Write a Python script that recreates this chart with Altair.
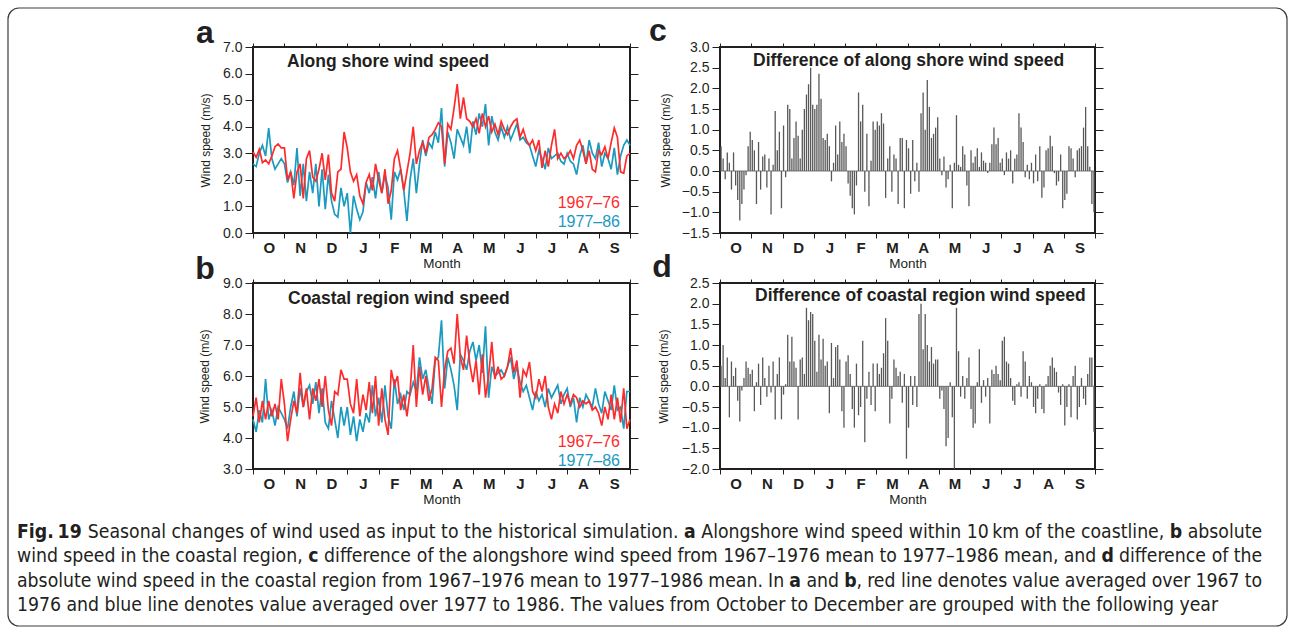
import json
import altair as alt
import pandas as pd

# ---------------- data ----------------
MONTHS = ["O", "N", "D", "J", "F", "M", "A", "M", "J", "J", "A", "S"]
SERIES_NAMES = ["1967\u201376", "1977\u201386"]
PANEL_LETTERS = ["a", "b", "c", "d"]
PANEL_TITLES = [
    "Along shore wind speed",
    "Coastal region wind speed",
    "Difference of along shore wind speed",
    "Difference of coastal region wind speed",
]
Y_TITLE = "Wind speed (m/s)"
X_TITLE = "Month"
Y_TICKS_A = [0, 1, 2, 3, 4, 5, 6, 7]
Y_TICKS_B = [3, 4, 5, 6, 7, 8, 9]
Y_TICKS_C = [-1.5, -1.0, -0.5, 0.0, 0.5, 1.0, 1.5, 2.0, 2.5, 3.0]
Y_TICKS_D = [-2.0, -1.5, -1.0, -0.5, 0.0, 0.5, 1.0, 1.5, 2.0, 2.5]

# panel a: along shore wind speed (Oct .. Sep), 10 readings per month + end
A_RED = [
    3.05, 2.85, 3.15, 2.65, 2.75, 2.6, 2.9, 3.25, 3.35, 3.2,
    3.2, 2.0, 2.3, 1.3, 2.3, 2.6, 1.3, 2.8, 3.1, 2.1,
    1.95, 2.4, 3.0, 2.0, 2.95, 1.5, 1.2, 2.3, 2.4, 3.8,
    3.2, 2.3, 1.95, 2.2, 1.4, 1.1, 1.9, 2.2, 1.6, 2.6,
    2.0, 1.5, 2.4, 1.1, 1.6, 2.8, 3.1, 2.4, 1.6, 2.3,
    3.0, 4.0, 2.6, 3.1, 3.4, 3.0, 3.6, 3.7, 3.9, 4.15,
    4.0, 2.6, 4.1, 3.9, 4.7, 5.6, 4.3, 5.1, 4.3, 4.2,
    4.0, 4.3, 3.75, 4.5, 4.0, 4.4, 3.8, 4.1, 3.7, 4.2,
    3.9, 3.7, 4.0, 4.2, 4.3, 3.6, 3.9, 3.5, 3.3, 3.5,
    3.1, 3.5, 2.45, 3.1, 2.5, 3.3, 3.9, 2.8, 3.0, 2.8,
    2.9, 3.1, 2.8, 3.3, 3.5, 3.1, 2.6, 3.1, 2.4, 2.3,
    3.1, 2.95, 3.25, 2.8, 3.4, 3.95, 3.6, 2.3, 2.25, 2.9,
    3.0,
]
A_BLUE = [
    2.6, 2.5, 3.0, 3.3, 2.9, 3.95, 2.8, 2.4, 2.6, 2.8,
    2.6, 1.9, 2.3, 1.8, 3.2, 1.4, 2.6, 1.2, 2.3, 1.5,
    2.6, 1.0, 2.4, 0.9, 2.2, 1.2, 0.7, 0.6, 1.7, 1.0,
    1.5, 0.0, 1.4, 0.9, 0.5, 0.8, 1.9, 1.5, 2.1, 1.3,
    2.3, 1.5, 2.2, 1.7, 0.5, 2.3, 2.0, 2.4, 1.6, 0.45,
    2.0, 2.8, 1.5, 2.6, 3.5, 2.9, 3.4, 3.2, 3.8, 3.4,
    4.7, 2.5, 3.8, 3.4, 2.8, 3.9, 3.6, 3.3, 4.0, 3.0,
    4.2, 3.7, 4.5, 4.0, 4.85, 3.3, 4.4, 3.8, 3.5, 4.0,
    3.6, 4.0, 3.5, 3.8, 4.1, 3.5, 3.6, 3.4, 3.3, 2.9,
    2.5, 3.1, 2.8, 2.4, 3.2, 2.8, 2.9, 3.0, 2.7, 2.6,
    3.0, 2.7, 2.6, 2.2, 2.9, 3.3, 2.6, 3.5, 3.0, 2.8,
    3.4, 2.5, 3.0, 2.8, 2.4, 3.2, 2.2, 2.9, 3.3, 3.5,
    3.3,
]
# panel b: coastal region wind speed
B_RED = [
    4.7, 5.3, 4.5, 5.2, 4.6, 5.2, 4.7, 5.1, 4.6, 5.9,
    5.1, 3.9, 4.6, 5.2, 4.8, 6.1, 5.0, 5.6, 4.6, 5.6,
    5.2, 5.9, 5.0, 6.0, 4.9, 4.4, 5.5, 5.4, 6.2, 5.9,
    5.9, 5.1, 4.8, 5.9, 4.7, 5.4, 4.9, 5.8, 4.8, 6.0,
    4.4, 5.6, 4.6, 4.1, 6.2, 5.7, 6.0, 4.9, 5.4, 4.7,
    5.5, 7.0, 5.0, 6.3, 5.4, 6.0, 5.2, 5.6, 6.6, 6.5,
    5.0, 6.2, 6.8, 6.9, 6.4, 8.0, 6.6, 6.2, 7.3, 6.4,
    5.8, 6.5, 5.4, 6.7, 5.3, 6.0, 7.1, 5.9, 6.3, 5.9,
    6.0, 6.3, 6.9, 6.1, 6.5, 5.3, 6.2, 6.0, 6.45, 5.5,
    5.3, 5.9, 5.5, 6.0, 5.0, 4.6, 5.1, 4.8, 5.5, 5.1,
    5.4, 5.1, 5.4, 5.3, 5.0, 5.2, 5.1, 5.2, 4.9, 5.0,
    4.8, 4.4, 5.0, 4.6, 5.4, 4.6, 5.3, 4.5, 5.6, 4.3,
    4.6,
]
B_BLUE = [
    4.6, 4.2, 4.9, 4.5, 5.9, 4.6, 4.9, 4.4, 5.0, 4.8,
    4.6, 4.3, 5.0, 5.5, 4.7, 5.6, 5.0, 5.5, 5.7, 5.1,
    5.8, 4.8, 5.6, 4.5, 4.3, 5.2, 4.6, 4.0, 5.0, 4.4,
    5.0, 4.1, 4.7, 3.9, 4.6, 4.2, 4.8, 4.5, 5.7, 4.7,
    5.3, 4.5, 5.7, 4.7, 4.3, 5.9, 5.1, 5.4, 4.9, 5.5,
    5.4, 5.8, 5.5, 6.6, 5.9, 6.2, 5.6, 5.1, 6.5, 6.6,
    7.8, 5.6, 6.6, 6.2, 5.7, 4.9, 6.7, 6.5, 6.2, 6.8,
    7.1, 6.5, 7.0, 6.1, 7.6, 5.3, 6.3, 6.0, 6.1, 6.2,
    6.0, 6.3, 6.6, 5.9, 6.3, 5.8, 5.5, 5.7, 5.3, 4.9,
    5.5, 5.2, 5.4, 5.0, 5.6, 5.3, 5.5, 5.7, 5.1, 5.4,
    5.6, 5.0, 5.3, 4.5, 5.3, 5.0, 5.4, 5.2, 5.0, 5.6,
    5.1, 4.8, 5.5, 5.2, 4.9, 5.7, 4.9, 5.0, 4.3, 5.5,
    5.5,
]
# panel c / d: differences, 15 readings per month
C_DIFF = [
    0.6, 0.3, -0.2, 0.45, 0.2, -0.45, 0.45, -0.35, -0.7, -1.2, -0.8, -0.45, -0.1, 0.6, 0.95,
    0.75, 0.5, -0.8, 0.7, -0.45, 0.35, 0.4, -0.4, 0.3, -1.05, 0.15, 1.45, 0.5, 0.95, -0.9,
    1.1, -0.15, 1.6, 1.5, 0.3, 0.8, 1.2, 0.85, 0.3, 1.0, 1.5, 1.85, 2.1, 2.5, 1.6,
    1.5, 1.6, 2.35, 1.75, 0.8, 0.75, 0.9, 0.6, -0.25, 0.2, 1.1, 0.4, 1.2, 0.7, 0.9,
    0.6, -0.3, -0.6, -0.9, -1.05, -0.35, 1.9, 1.2, 1.6, -0.5, 0.9, -0.85, 0.25, 1.2, 1.0,
    1.2, 1.1, 1.4, 1.15, -0.65, 0.3, 0.6, -0.5, 0.4, 0.3, -0.8, 0.8, 0.8, -0.9, 0.75,
    0.55, -0.55, 0.75, -0.25, 0.2, -0.5, 1.4, 1.9, 1.0, 2.2, 1.55, 0.8, 0.9, 1.05, 1.3,
    0.3, -0.1, 0.35, -0.4, -0.2, 0.15, -0.9, 0.2, 1.35, 0.15, 0.1, 0.6, 0.4, -0.35, -0.85,
    0.5, 0.2, 0.35, 0.55, 0.1, 0.45, 0.25, 0.2, -0.05, 0.2, 0.65, 1.05, 0.65, 0.8, 0.2,
    0.3, -0.1, 0.45, 0.3, 0.5, -0.3, 0.3, 0.4, 1.4, 1.05, 0.7, -0.15, 0.15, -0.2, 0.2,
    -0.3, 0.4, -0.25, 0.6, -0.65, -0.4, 0.5, 0.55, 0.85, 0.6, -0.05, -0.35, -0.25, 0.4, -0.9,
    -0.7, -0.55, 0.6, 0.55, 0.3, -0.15, 0.5, 0.55, 0.6, 1.05, 1.55, 0.6, 0.1, -0.8, -1.0,
]
D_DIFF = [
    0.5, 1.0, 0.2, 0.7, -0.75, 0.6, 0.25, 0.45, -0.35, -0.85, -0.1, 0.2, 0.6, 0.45, 0.3,
    0.4, -0.6, 0.1, 0.55, -0.45, 0.7, 0.2, -0.25, 0.5, -0.15, 0.6, -0.8, 0.3, 0.7, -0.8,
    -0.2, 0.05, 1.25, 0.6, 1.2, 0.6, 0.45, -0.8, 0.65, 0.7, 0.3, 1.9, 1.6, 1.8, 1.75,
    1.1, 0.35, 1.25, 0.65, 1.15, 0.5, 0.6, -0.65, 1.05, 0.2, 0.95, 1.0, 0.65, -0.6, -1.0,
    0.6, 0.75, 0.3, -0.55, -1.0, 0.55, -0.7, -0.5, 1.1, -1.35, -0.3, 0.35, -0.45, 0.55, -0.6,
    0.55, 0.3, 0.45, 0.8, 1.65, 1.1, -0.9, -0.3, 0.65, 0.45, 0.25, 0.35, -0.4, 0.3, -1.75,
    -1.0, 0.25, -0.45, 0.25, -0.5, 1.75, 2.0, 0.9, 1.75, 1.0, 0.6, 0.95, 0.55, 0.65, 0.65,
    -0.3, -0.1, -0.55, -1.45, -1.25, 0.1, -0.75, -2.0, 1.9, 0.85, -0.25, 0.25, -0.3, 0.2, 0.7,
    -0.55, -1.0, -0.9, 0.1, 0.9, -0.4, 0.15, -0.25, 0.2, -0.9, 0.4, 0.3, 0.5, 0.3, 0.15,
    1.1, 1.2, 0.6, 0.55, 0.2, -0.35, -0.45, 0.05, 0.1, -0.25, 0.85, 0.6, -0.3, 0.25, 0.1,
    -0.5, -0.65, -0.3, 0.05, -0.55, -0.65, 0.05, 0.25, 0.5, 0.7, 0.45, 0.35, -0.15, -0.45, 0.05,
    -0.95, -0.5, 0.05, -0.75, 0.25, 0.5, -0.8, -0.5, 0.2, -0.3, -0.45, 0.3, 0.7, 0.7, -1.1,
]

CAPTION_LINES = [
    [("Fig. 19", "bold"),
     ("Seasonal changes of wind used as input to the historical simulation.", "normal"),
     ("a", "bold"),
     ("Alongshore wind speed within 10\u2009km of the coastline,", "normal"),
     ("b", "bold"),
     ("absolute", "normal")],
    [("wind speed in the coastal region,", "normal"),
     ("c", "bold"),
     ("difference of the alongshore wind speed from 1967\u20131976 mean to 1977\u20131986 mean, and", "normal"),
     ("d", "bold"),
     ("difference of the", "normal")],
    [("absolute wind speed in the coastal region from 1967\u20131976 mean to 1977\u20131986 mean. In", "normal"),
     ("a", "bold"),
     ("and", "normal"),
     ("b", "bold"),
     (", red line denotes value averaged over 1967 to", "normal")],
    [("1976 and blue line denotes value averaged over 1977 to 1986. The values from October to December are grouped with the following year", "normal")],
]

# ---------------- layout / style ----------------
RED = "#ff2b2b"
BLUE = "#1a9abf"
BAR = "#585858"
INK = "#231f20"
FONT = "Liberation Sans, Arial, Helvetica, sans-serif"
CAP_FONT = "DejaVu Sans Condensed, sans-serif"

W_L, W_R, H = 377, 375, 186
ORIGIN_CAP = (253, 519)          # origin of the caption cell (row 3 of the grid)
CAP_LEFT, CAP_RIGHT = 17, 1262
CAP_Y = [532, 556, 581, 605]

LABEL_EXPR = "datum.value < 12 ? " + json.dumps(MONTHS) + "[datum.value] : ''"

# approximate DejaVu Sans advance widths (em) used to lay out the justified caption
_W = dict(zip("abcdefghijklmnopqrstuvwxyz",
              [.613, .635, .550, .635, .615, .352, .635, .634, .278, .278, .579, .278, .974,
               .634, .612, .635, .635, .411, .521, .392, .634, .592, .818, .592, .592, .525]))
_W.update(dict(zip("ABCDEFGHIJKLMNOPQRSTUVWXYZ",
                   [.684, .686, .698, .770, .632, .575, .775, .752, .295, .295, .656, .557, .863,
                    .748, .787, .603, .787, .695, .635, .611, .732, .684, .989, .685, .611, .685])))
_W.update({c: .636 for c in "0123456789"})
_W.update({" ": .318, ".": .318, ",": .318, "\u2013": .5, "\u2009": .2, "(": .39, ")": .39})
BOLD_F = 1.12


def em_width(s, bold):
    return sum(_W.get(ch, 0.6) for ch in s) * (BOLD_F if bold else 1.0)


# calibration from the previous render: the last line measured 1309 px at 21 px
_last = CAPTION_LINES[3][0][0]
K = 1309.0 / (21.0 * em_width(_last, False))
CAP_SIZE = 21.0 * 1201.0 / 1309.0
UNIT = K * CAP_SIZE


def caption_df():
    rows = []
    for li, line in enumerate(CAPTION_LINES):
        toks = []
        for si, (seg, wt) in enumerate(line):
            words = seg.split(" ")
            for wi, w in enumerate(words):
                space = not (si == 0 and wi == 0) and not (wi == 0 and w.startswith(","))
                toks.append((w, wt, space))
        widths = [em_width(w, wt == "bold") * UNIT for w, wt, _ in toks]
        n_sp = sum(1 for t in toks if t[2])
        if li < len(CAPTION_LINES) - 1:
            gap = (CAP_RIGHT - CAP_LEFT - sum(widths)) / n_sp
        else:
            gap = _W[" "] * UNIT
        x = CAP_LEFT
        for (w, wt, sp), wd in zip(toks, widths):
            if sp:
                x += gap
            rows.append({"w": w, "wt": wt, "px": x - ORIGIN_CAP[0], "py": CAP_Y[li] - ORIGIN_CAP[1]})
            x += wd
    return pd.DataFrame(rows)


def series_df(vals):
    n = len(vals)
    return pd.DataFrame({"m": [12.0 * i / (n - 1) for i in range(n)], "v": vals})


def bars_df(vals):
    n = len(vals)
    return pd.DataFrame({"m": [12.0 * (i + 0.5) / n for i in range(n)], "v": vals})


def x_enc(width, primary):
    scale = alt.Scale(domain=[0, 12], nice=False, zero=False)
    if primary:
        axis = alt.Axis(values=list(range(13)), labelExpr=LABEL_EXPR, labelOffset=width / 24.0,
                        labelFlush=False, labelOverlap=False, labelFontSize=15, labelFontWeight="bold",
                        labelPadding=2, tickSize=5, domain=False, grid=False,
                        title=X_TITLE, titleFontSize=13.5, titleFontWeight="normal",
                        titleY=30, titleBaseline="middle")
    else:
        axis = alt.Axis(orient="top", values=list(range(13)), labels=False, tickSize=4,
                        domain=False, grid=False, title="")
    return alt.X("m:Q", scale=scale, axis=axis)


def y_enc(ydom, ticks, primary, title_x=-48):
    scale = alt.Scale(domain=ydom, nice=False, zero=False)
    if primary:
        axis = alt.Axis(values=ticks, format=".1f", labelFontSize=14, labelPadding=3, tickSize=8,
                        domain=False, grid=False, title=Y_TITLE, titleFontSize=12,
                        titleFontWeight="normal", titleX=title_x, titleY=H / 2.0, titleAngle=270,
                        titleAlign="center", titleBaseline="middle")
    else:
        axis = alt.Axis(orient="right", values=ticks, labels=False, tickSize=8, domain=False,
                        grid=False, title="")
    return alt.Y("v:Q", scale=scale, axis=axis)


def txt(text, dx, dy, size, weight="normal", align="left", color=INK, font=FONT, baseline="middle"):
    return alt.Chart(pd.DataFrame({"t": [text]})).mark_text(
        align=align, baseline=baseline, fontSize=size, fontWeight=weight, font=font, color=color
    ).encode(x=alt.value(dx), y=alt.value(dy), text="t:N")


def line_panel(red, blue, ydom, ticks, letter, title, title_x, title_y, legend_y, ytitle_x):
    layers = [
        alt.Chart(series_df(blue)).mark_line(color=BLUE, strokeWidth=1.7).encode(
            x=x_enc(W_L, False), y=y_enc(ydom, ticks, False)),
        alt.Chart(series_df(red)).mark_line(color=RED, strokeWidth=1.7).encode(
            x=x_enc(W_L, True), y=y_enc(ydom, ticks, True, ytitle_x)),
        txt(letter, -48, -4, 32, "bold", "center", baseline="alphabetic"),
        txt(title, title_x, title_y, 17.5, "bold"),
        txt(SERIES_NAMES[0], W_L - 10, legend_y, 16, align="right", color=RED),
        txt(SERIES_NAMES[1], W_L - 10, legend_y + 19, 16, align="right", color=BLUE),
    ]
    return alt.layer(*layers).properties(width=W_L, height=H).resolve_axis(x="independent", y="independent")


def bar_panel(vals, ydom, ticks, letter, letter_x, title, title_x, title_y, ytitle_x):
    df = bars_df(vals)
    layers = [
        alt.Chart(df).mark_point(opacity=0).encode(x=x_enc(W_R, False), y=y_enc(ydom, ticks, False)),
        alt.Chart(pd.DataFrame({"v": [0.0]})).mark_rule(color=BAR, strokeWidth=0.8).encode(
            y=alt.Y("v:Q", scale=alt.Scale(domain=ydom, nice=False, zero=False), axis=None)),
        alt.Chart(df).mark_rule(color=BAR, strokeWidth=1.3).encode(
            x=x_enc(W_R, True), y=y_enc(ydom, ticks, True, ytitle_x), y2=alt.datum(0)),
        txt(letter, letter_x, -6, 32, "bold", "center", baseline="alphabetic"),
        txt(title, title_x, title_y, 17.5, "bold"),
    ]
    return alt.layer(*layers).properties(width=W_R, height=H).resolve_axis(x="independent", y="independent")


# caption cell: justified caption text, figure border and the canvas extent
ox, oy = ORIGIN_CAP
cap_base = alt.Chart(caption_df())
cap_layers = [
    alt.Chart(pd.DataFrame({"k": [0]})).mark_rect(opacity=0).encode(
        x=alt.value(-ox), x2=alt.value(1292 - ox), y=alt.value(-oy), y2=alt.value(630 - oy)),
    alt.Chart(pd.DataFrame({"k": [0]})).mark_rect(filled=False, color="#3c3c3c", strokeWidth=1.2,
                                                  cornerRadius=11).encode(
        x=alt.value(8 - ox), x2=alt.value(1287 - ox), y=alt.value(8 - oy), y2=alt.value(626 - oy)),
]
for wt in ["normal", "bold"]:
    cap_layers.append(
        cap_base.transform_filter(alt.datum.wt == wt).mark_text(
            align="left", baseline="middle", font=CAP_FONT, fontSize=CAP_SIZE, fontWeight=wt, color=INK
        ).encode(x=alt.X("px:Q", scale=None, axis=None), y=alt.Y("py:Q", scale=None, axis=None), text="w:N")
    )
CAP = alt.layer(*cap_layers).properties(width=1, height=1, view=alt.ViewBackground(strokeOpacity=0))

A = line_panel(A_RED, A_BLUE, [0, 7], Y_TICKS_A, PANEL_LETTERS[0], PANEL_TITLES[0], 34, 15, 156, -48)
B = line_panel(B_RED, B_BLUE, [3, 9], Y_TICKS_B, PANEL_LETTERS[1], PANEL_TITLES[1], 35, 16, 159, -49)
C = bar_panel(C_DIFF, [-1.5, 3.0], Y_TICKS_C, PANEL_LETTERS[2], -62, PANEL_TITLES[2], 33, 14, -55)
D = bar_panel(D_DIFF, [-2.0, 2.5], Y_TICKS_D, PANEL_LETTERS[3], -58, PANEL_TITLES[3], 35, 13, -57)

chart = alt.concat(A, C, B, D, CAP, columns=2, spacing={"row": 50, "column": 90}, bounds="flush").properties(
    padding=0
).configure_view(stroke=INK, strokeWidth=2).configure_axis(
    labelFont=FONT, titleFont=FONT, labelColor=INK, titleColor=INK, tickColor=INK, tickWidth=1
)

chart.save("out.html", embed_options={"renderer": "svg", "actions": False})
